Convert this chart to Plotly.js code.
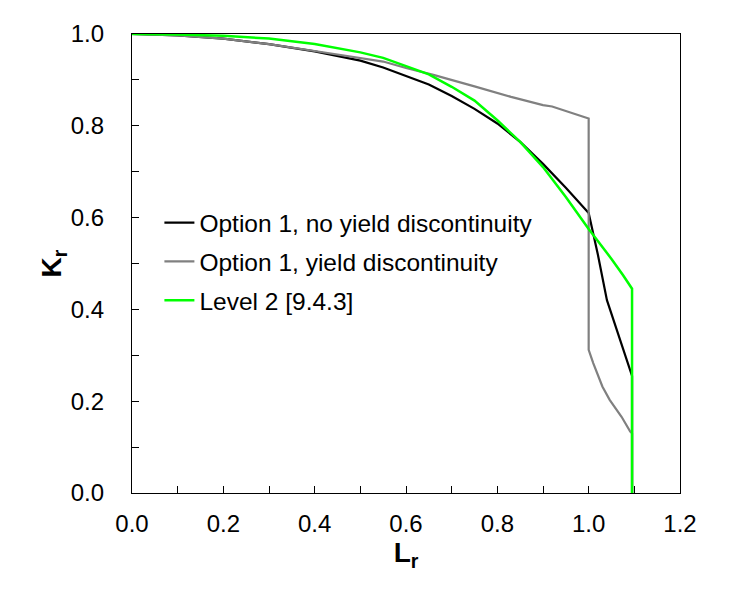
<!DOCTYPE html>
<html>
<head>
<meta charset="utf-8">
<script src="https://cdn.plot.ly/plotly-3.0.1.min.js"></script>
<style>html,body{margin:0;padding:0;background:#fff;}#chart{width:744px;height:611px;}</style>
</head>
<body>
<div id="chart"></div>
<script>
// Option 1, no yield discontinuity
const blackL = [0, 0.1, 0.2, 0.3, 0.4, 0.5, 0.55, 0.6, 0.65, 0.7, 0.75, 0.8, 0.85, 0.9, 0.95, 1.0, 1.02, 1.04, 1.06, 1.08, 1.095, 1.095];
const blackK = [1.0, 0.997, 0.99, 0.978, 0.962, 0.942, 0.927, 0.908, 0.89, 0.865, 0.837, 0.805, 0.765, 0.717, 0.665, 0.61, 0.52, 0.42, 0.36, 0.30, 0.255, 0.0];
// Option 1, yield discontinuity
const grayL = [0, 0.1, 0.2, 0.3, 0.4, 0.5, 0.55, 0.6, 0.66, 0.75, 0.83, 0.9, 0.92, 1.0, 1.0, 1.01, 1.03, 1.046, 1.072, 1.091, 1.095, 1.095];
const grayK = [1.0, 0.997, 0.99, 0.978, 0.963, 0.948, 0.94, 0.926, 0.911, 0.886, 0.863, 0.845, 0.842, 0.816, 0.312, 0.283, 0.232, 0.203, 0.166, 0.134, 0.13, 0.0];
// Level 2 [9.4.3]
const greenL = [0, 0.1, 0.2, 0.3, 0.4, 0.5, 0.55, 0.6, 0.65, 0.7, 0.75, 0.8, 0.85, 0.9, 0.95, 1.0, 1.025, 1.05, 1.075, 1.095, 1.095];
const greenK = [1.0, 0.999, 0.996, 0.99, 0.978, 0.96, 0.948, 0.93, 0.912, 0.885, 0.855, 0.812, 0.765, 0.71, 0.645, 0.575, 0.543, 0.51, 0.475, 0.445, 0.0];

const seriesNames = ['Option 1, no yield discontinuity', 'Option 1, yield discontinuity', 'Level 2 [9.4.3]'];
const xTitle = '<b>L<sub>r</sub></b>';
const yTitle = '<b>K<sub>r</sub></b>';

const FONT = 'Liberation Sans, Arial, Helvetica, sans-serif';

const traces = [
  {x: blackL, y: blackK, name: seriesNames[0], legendgroup: 'a', mode: 'lines', line: {color: '#000000', width: 2.2}},
  {x: grayL, y: grayK, name: seriesNames[1], legendgroup: 'b', mode: 'lines', line: {color: '#808080', width: 2.2}},
  {x: greenL, y: greenK, name: seriesNames[2], legendgroup: 'c', mode: 'lines', line: {color: '#00ff00', width: 2.5}}
];

const axisCommon = {
  showgrid: false, zeroline: false,
  showline: true, linecolor: '#000', linewidth: 1.2, mirror: true,
  ticks: 'inside', ticklen: 7, tickcolor: '#000', tickwidth: 1,
  tickformat: '.1f',
  tickfont: {family: FONT, size: 24, color: '#000'},
  minor: {dtick: 0.1, ticks: 'inside', ticklen: 7, tickcolor: '#000', tickwidth: 1}
};

const layout = {
  width: 744, height: 611,
  margin: {l: 132, r: 64, t: 34, b: 118},
  paper_bgcolor: '#fff', plot_bgcolor: '#fff',
  font: {family: FONT, color: '#000'},
  showlegend: true,
  legend: {x: 0.05, y: 0.638, xanchor: 'left', yanchor: 'top', bgcolor: 'rgba(0,0,0,0)',
           font: {family: FONT, size: 24.5, color: '#000'}, tracegroupgap: 4},
  xaxis: Object.assign({}, axisCommon, {range: [0, 1.2], dtick: 0.2, tick0: 0, ticklabelstandoff: 9,
          title: {text: xTitle, font: {family: FONT, size: 28, color: '#000'}, standoff: 2}}),
  yaxis: Object.assign({}, axisCommon, {range: [0, 1.0], dtick: 0.2, tick0: 0, ticklabelstandoff: 22,
          title: {text: yTitle, font: {family: FONT, size: 28, color: '#000'}, standoff: 0}})
};

Plotly.newPlot('chart', traces, layout, {displayModeBar: false, staticPlot: true});
</script>
</body>
</html>
